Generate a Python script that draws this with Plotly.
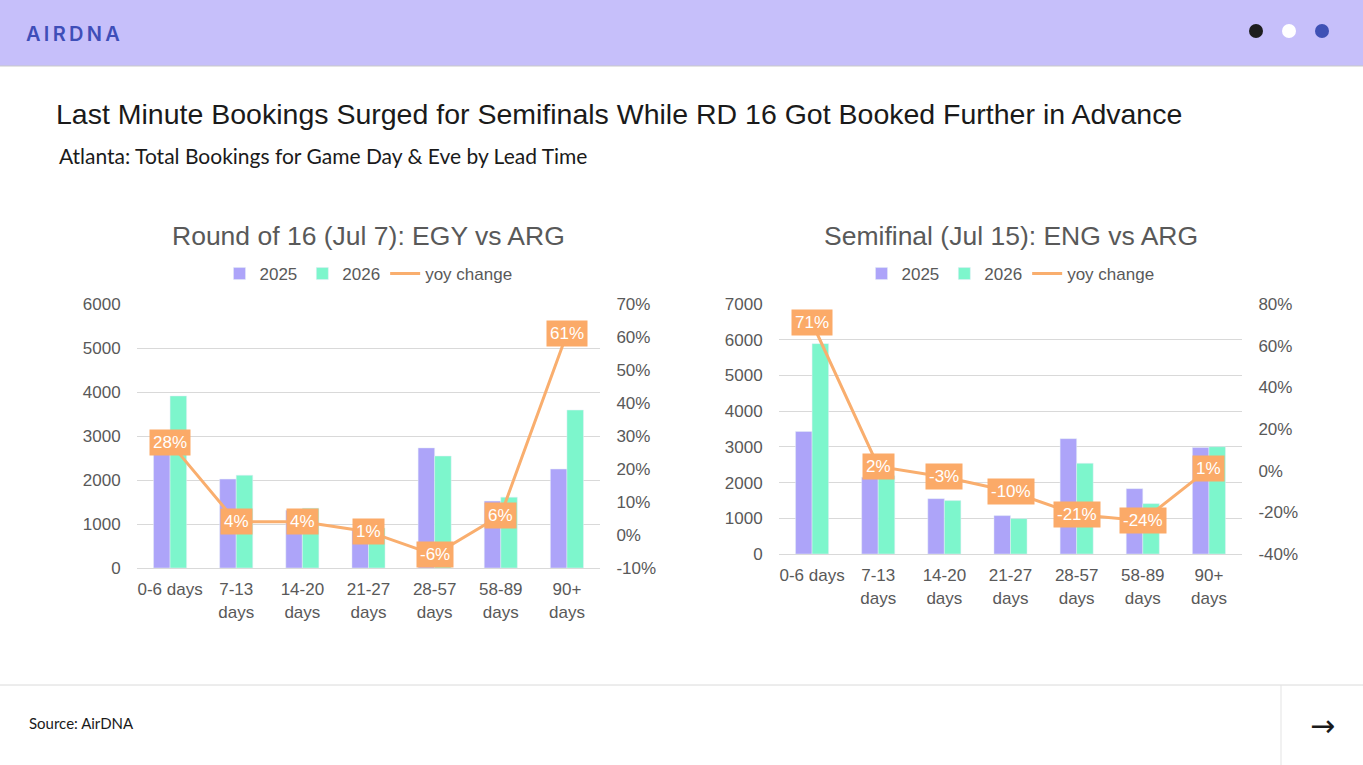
import plotly.graph_objects as go

W, H = 1363, 765

# data
lead_times = ["0-6 days", "7-13<br>days", "14-20<br>days", "21-27<br>days",
              "28-57<br>days", "58-89<br>days", "90+<br>days"]

r16_2025 = [3060, 2020, 1310, 900, 2730, 1520, 2250]
r16_2026 = [3910, 2110, 1360, 910, 2545, 1610, 3590]
r16_yoy = [0.28, 0.04, 0.04, 0.01, -0.06, 0.06, 0.61]
r16_pct_ticks = [-0.1, 0, 0.1, 0.2, 0.3, 0.4, 0.5, 0.6, 0.7]
r16_pct_labels = ["-10%", "0%", "10%", "20%", "30%", "40%", "50%", "60%", "70%"]

semi_2025 = [3430, 2150, 1550, 1075, 3230, 1830, 2980]
semi_2026 = [5890, 2190, 1495, 990, 2540, 1410, 3005]
semi_yoy = [0.71, 0.02, -0.03, -0.10, -0.21, -0.24, 0.01]
semi_pct_ticks = [-0.4, -0.2, 0, 0.2, 0.4, 0.6, 0.8]
semi_pct_labels = ["-40%", "-20%", "0%", "20%", "40%", "60%", "80%"]

colors = dict(
    y2025="#ADA4F9",
    y2026="#7DF6CC",
    yoy="#F9AE6E",
    label_bg="#FBAA68",
    axis_text="#595959",
    grid="#D9D9D9",
    header="#C6BFFA",
    logo="#3E4EB8",
)
font = "Liberation Sans, Arial, sans-serif"
side_font = "Lato, Open Sans, sans-serif"


def px_x(v):
    return v / W


def px_y(v):
    return 1 - v / H


fig = go.Figure()

charts = [
    dict(b25=r16_2025, b26=r16_2026, yoy=r16_yoy, xa="x", ya="y", ya2="y2", leg="legend"),
    dict(b25=semi_2025, b26=semi_2026, yoy=semi_yoy, xa="x2", ya="y3", ya2="y4", leg="legend2"),
]

for c in charts:
    fig.add_trace(go.Bar(x=lead_times, y=c["b25"], name="2025", marker_color=colors["y2025"],
                         xaxis=c["xa"], yaxis=c["ya"], legend=c["leg"]))
    fig.add_trace(go.Bar(x=lead_times, y=c["b26"], name="2026", marker_color=colors["y2026"],
                         xaxis=c["xa"], yaxis=c["ya"], legend=c["leg"]))
    fig.add_trace(go.Scatter(x=lead_times, y=c["yoy"], name="yoy change", mode="lines",
                             line=dict(color=colors["yoy"], width=3),
                             xaxis=c["xa"], yaxis=c["ya2"], legend=c["leg"]))

tick_font = dict(family=font, size=17, color=colors["axis_text"])

x_common = dict(type="category", showline=True, linecolor=colors["grid"], linewidth=1,
                showgrid=False, tickfont=tick_font, ticks="outside", ticklen=6,
                tickcolor="rgba(0,0,0,0)", fixedrange=True, automargin=False)
y_common = dict(showgrid=True, gridcolor=colors["grid"], gridwidth=1, zeroline=False,
                tickfont=tick_font, ticks="outside", ticklen=12,
                tickcolor="rgba(0,0,0,0)", dtick=1000, fixedrange=True, automargin=False)
y2_common = dict(side="right", showgrid=False, zeroline=False,
                 tickfont=tick_font, ticks="outside", ticklen=12,
                 tickcolor="rgba(0,0,0,0)", fixedrange=True, automargin=False)

left_dom = [px_x(137), px_x(600)]
right_dom = [px_x(779), px_x(1242)]

legend_common = dict(orientation="h", xanchor="center", y=px_y(274), yanchor="middle",
                     font=dict(family=font, size=17, color=colors["axis_text"]),
                     itemwidth=30, bgcolor="rgba(0,0,0,0)")

fig.update_layout(
    xaxis=dict(domain=left_dom, anchor="y", **x_common),
    yaxis=dict(domain=[px_y(568), px_y(304)], anchor="x", range=[0, 6000], **y_common),
    yaxis2=dict(overlaying="y", anchor="x", range=[-0.1, 0.7],
                tickvals=r16_pct_ticks, ticktext=r16_pct_labels, **y2_common),
    xaxis2=dict(domain=right_dom, anchor="y3", **x_common),
    yaxis3=dict(domain=[px_y(554), px_y(304)], anchor="x2", range=[0, 7000], **y_common),
    yaxis4=dict(overlaying="y3", anchor="x2", range=[-0.4, 0.8],
                tickvals=semi_pct_ticks, ticktext=semi_pct_labels, **y2_common),
    barmode="group",
    bargap=0.5,
    bargroupgap=0,
    width=W,
    height=H,
    autosize=False,
    margin=dict(l=0, r=0, t=0, b=0, pad=0, autoexpand=False),
    paper_bgcolor="white",
    plot_bgcolor="white",
    legend=dict(x=(left_dom[0] + left_dom[1]) / 2, **legend_common),
    legend2=dict(x=(right_dom[0] + right_dom[1]) / 2, **legend_common),
    showlegend=True,
)

# header band, footer lines and dots
shapes = [
    dict(type="rect", xref="paper", yref="paper", x0=0, x1=1, y0=px_y(66), y1=1,
         fillcolor=colors["header"], line=dict(width=0), layer="below"),
    dict(type="line", xref="paper", yref="paper", x0=0, x1=1, y0=px_y(66), y1=px_y(66),
         line=dict(color="#C9C9C9", width=1)),
    dict(type="line", xref="paper", yref="paper", x0=0, x1=1, y0=px_y(685), y1=px_y(685),
         line=dict(color="#DADADA", width=1)),
    dict(type="line", xref="paper", yref="paper", x0=px_x(1281), x1=px_x(1281), y0=0, y1=px_y(685),
         line=dict(color="#E3E3E3", width=1)),
]
for cx, col in [(1256, "#1E1E1E"), (1289, "#FFFFFF"), (1322, "#3F51B5")]:
    shapes.append(dict(type="circle", xref="paper", yref="paper",
                       x0=px_x(cx - 7), x1=px_x(cx + 7), y0=px_y(31 + 7), y1=px_y(31 - 7),
                       fillcolor=col, line=dict(width=0)))
fig.update_layout(shapes=shapes)

annotations = [
    dict(text="A\u2009I\u2009R\u2009D\u2009N\u2009A", x=px_x(24), y=px_y(34), xanchor="left",
         yanchor="middle", font=dict(family="Inter, sans-serif", size=20, color=colors["logo"],
                                     weight=600)),
    dict(text="Last Minute Bookings Surged for Semifinals While RD 16 Got Booked Further in Advance",
         x=px_x(54), y=px_y(114), xanchor="left", yanchor="middle",
         font=dict(family=font, size=28.5, color="#1A1A1A")),
    dict(text="Atlanta: Total Bookings for Game Day & Eve by Lead Time",
         x=px_x(57), y=px_y(156), xanchor="left", yanchor="middle",
         font=dict(family=side_font, size=21, color="#1A1A1A")),
    dict(text="Round of 16 (Jul 7): EGY vs ARG", x=(left_dom[0] + left_dom[1]) / 2, y=px_y(236),
         xanchor="center", yanchor="middle",
         font=dict(family=font, size=26.5, color=colors["axis_text"])),
    dict(text="Semifinal (Jul 15): ENG vs ARG", x=(right_dom[0] + right_dom[1]) / 2, y=px_y(236),
         xanchor="center", yanchor="middle",
         font=dict(family=font, size=26.5, color=colors["axis_text"])),
    dict(text="Source: AirDNA", x=px_x(27), y=px_y(723), xanchor="left", yanchor="middle",
         font=dict(family=side_font, size=15, color="#1A1A1A")),
    dict(text="\u2192", x=px_x(1322), y=px_y(725), xanchor="center", yanchor="middle",
         font=dict(family="DejaVu Sans, sans-serif", size=30, color="#1A1A1A")),
]
for a in annotations:
    a.update(xref="paper", yref="paper", showarrow=False)

# orange value boxes on the yoy line
for c in charts:
    for cat, v in zip(lead_times, c["yoy"]):
        annotations.append(dict(
            x=cat, y=v, xref=c["xa"], yref=c["ya2"], text=f"{round(v * 100)}%", showarrow=False,
            font=dict(family=font, size=17, color="white"),
            bgcolor=colors["label_bg"], borderpad=3,
        ))

fig.update_layout(annotations=annotations)

fig.write_html(
    "out.html",
    config={"displayModeBar": False},
    post_script="document.body.style.margin='0';document.body.style.padding='0';",
)
